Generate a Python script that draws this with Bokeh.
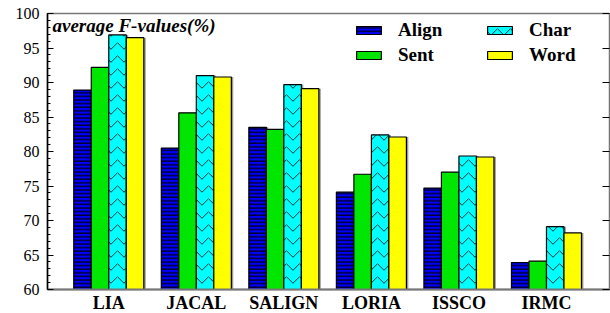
from bokeh.plotting import figure
from bokeh.models import (ColumnDataSource, Range1d, FixedTicker, LinearAxis, Legend,
                          LegendItem, Label)
from bokeh.transform import dodge
from bokeh.embed import file_html
from bokeh.resources import INLINE

systems = ["LIA", "JACAL", "SALIGN", "LORIA", "ISSCO", "IRMC"]
align = [88.9, 80.5, 83.5, 74.1, 74.7, 63.9]
sent = [92.2, 85.6, 83.2, 76.7, 77.0, 64.1]
char = [96.9, 91.0, 89.7, 82.4, 79.35, 69.1]
word = [96.5, 90.8, 89.1, 82.1, 79.2, 68.2]
series_names = ["Align", "Sent", "Char", "Word"]
y_ticks = [60, 65, 70, 75, 80, 85, 90, 95, 100]

SERIF = "Liberation Serif"

x = list(range(len(systems)))
src = ColumnDataSource(dict(x=x, align=align, sent=sent, char=char, word=word))

x0, x1 = -0.7, 5.72
p = figure(frame_width=562, frame_height=276, output_backend="svg", toolbar_location=None,
           x_range=Range1d(x0, x1), y_range=Range1d(60, 100),
           min_border_left=47, min_border_right=1, min_border_top=13, min_border_bottom=23)
p.background_fill_color = "white"
p.border_fill_color = "white"
p.outline_line_color = "#777777"
p.outline_line_width = 1.5
p.grid.visible = False

styles = [
    dict(col="align", off=-0.3, color="#0000ff", hatch="horizontal_line", hscale=3.6, hw=1.2),
    dict(col="sent", off=-0.1, color="#00e600", hatch=None, hscale=None, hw=None),
    dict(col="char", off=0.1, color="#00ffff", hatch="horizontal_wave", hscale=13, hw=0.8),
    dict(col="word", off=0.3, color="#ffff00", hatch=None, hscale=None, hw=None),
]

renderers = []
for s in styles:
    kw = {}
    if s["hatch"]:
        kw = dict(hatch_pattern=s["hatch"], hatch_color="black", hatch_scale=s["hscale"],
                  hatch_weight=s["hw"], hatch_alpha=1.0)
    p.vbar(x=dodge("x", s["off"] + 0.022, range=p.x_range), top=s["col"], bottom=60,
           width=0.2, source=src, fill_color="#999999", line_color=None)
    r = p.vbar(x=dodge("x", s["off"], range=p.x_range), top=s["col"], bottom=60, width=0.2,
               source=src, fill_color=s["color"], line_color="black", line_width=1.2, **kw)
    renderers.append(r)

p.yaxis.ticker = FixedTicker(ticks=y_ticks, minor_ticks=[60 + i for i in range(41)])
p.yaxis.major_tick_in = 6
p.yaxis.major_tick_out = 0
p.yaxis.minor_tick_in = 3
p.yaxis.minor_tick_out = 0
p.yaxis.axis_line_color = "black"
p.yaxis.axis_line_width = 1.5
p.yaxis.major_label_text_font = SERIF
p.yaxis.major_label_text_font_size = "16px"
p.yaxis.major_label_text_color = "black"
p.yaxis.major_label_standoff = 8

ra = LinearAxis(ticker=FixedTicker(ticks=y_ticks), major_tick_in=7, major_tick_out=0,
                minor_tick_in=0, minor_tick_out=0,
                major_label_overrides={t: "" for t in y_ticks}, major_label_standoff=0,
                axis_line_color="#777777", major_tick_line_color="black")
p.add_layout(ra, "right")

p.xaxis.ticker = FixedTicker(ticks=x)
p.xaxis.major_label_overrides = {i: n for i, n in enumerate(systems)}
p.xaxis.major_tick_in = 0
p.xaxis.major_tick_out = 0
p.xaxis.minor_tick_line_color = None
p.xaxis.axis_line_color = "#777777"
p.xaxis.axis_line_width = 2
p.xaxis.major_label_text_font = SERIF
p.xaxis.major_label_text_font_style = "bold"
p.xaxis.major_label_text_font_size = "18px"
p.xaxis.major_label_text_color = "black"
p.xaxis.major_label_standoff = 3

p.add_layout(Label(x=x0, y=100, x_offset=5, y_offset=-1, text="average F-values(%)",
                   text_font=SERIF, text_font_style="bold italic",
                   text_font_size="19px", text_color="black", text_baseline="top"))

legend = Legend(items=[LegendItem(label=n, renderers=[r]) for n, r in zip(series_names, renderers)],
                ncols=2, location=(306, 223))
legend.label_text_font = SERIF
legend.label_text_font_style = "bold"
legend.label_text_font_size = "19px"
legend.label_text_color = "black"
legend.border_line_color = None
legend.background_fill_alpha = 0
legend.glyph_width = 31
legend.glyph_height = 10
legend.label_height = 16
legend.spacing = 3
legend.label_standoff = 14
legend.padding = 4
legend.margin = 0
legend.label_width = 83
p.add_layout(legend)

open("out.html", "w").write(file_html(p, INLINE))
